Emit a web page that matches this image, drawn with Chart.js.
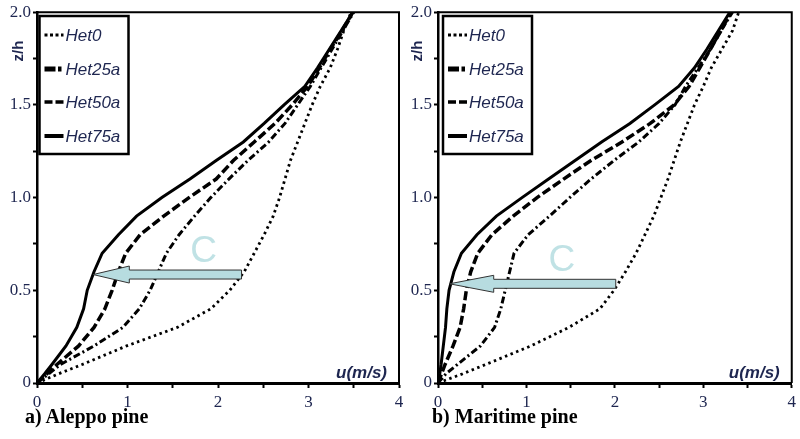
<!DOCTYPE html>
<html><head><meta charset="utf-8">
<script src="https://cdn.jsdelivr.net/npm/chart.js@4.4.1/dist/chart.umd.min.js"></script>
<style>
html,body{margin:0;padding:0;background:#fff;width:800px;height:439px;overflow:hidden;}
#wrap{position:relative;width:800px;height:439px;background:#fff;}
canvas{position:absolute;top:0;}
#c1{left:0;} #c2{left:400px;}
.cap{position:absolute;top:406px;font:bold 20px "Liberation Serif","Times New Roman",serif;line-height:20px;color:#000;white-space:nowrap;}
</style></head>
<body>
<div id="wrap">
<canvas id="c1" width="410" height="439"></canvas>
<canvas id="c2" width="400" height="439"></canvas>
<div class="cap" style="left:25px">a) Aleppo pine</div>
<div class="cap" style="left:432px">b) Maritime pine</div>
</div>
<script>
// ---- data (u in m/s at each z/h level) ----
const zLevels = [0,0.05,0.1,0.2,0.3,0.4,0.5,0.6,0.7,0.8,0.9,1.0,1.1,1.2,1.3,1.4,1.5,1.6,1.7,1.8,1.9,2.0];
const seriesNames = ['Het0','Het25a','Het50a','Het75a'];

const aleppoHet0   = [0,0.24,0.50,0.99,1.55,1.92,2.13,2.29,2.40,2.51,2.61,2.68,2.74,2.80,2.88,2.96,3.04,3.13,3.24,3.32,3.39,3.47];
const aleppoHet25a = [0,0.13,0.26,0.63,0.95,1.13,1.25,1.34,1.43,1.57,1.74,1.92,2.12,2.33,2.56,2.74,2.88,3.02,3.14,3.26,3.38,3.50];
const aleppoHet50a = [0,0.11,0.22,0.46,0.63,0.75,0.83,0.90,0.98,1.14,1.40,1.68,1.98,2.17,2.40,2.63,2.82,2.99,3.12,3.24,3.37,3.49];
const aleppoHet75a = [0,0.085,0.165,0.32,0.44,0.515,0.555,0.63,0.72,0.90,1.10,1.38,1.69,1.98,2.28,2.51,2.73,2.96,3.10,3.23,3.36,3.49];

const maritimeHet0   = [0,0.28,0.54,1.05,1.48,1.83,1.99,2.12,2.24,2.34,2.44,2.52,2.60,2.67,2.74,2.82,2.90,3.00,3.09,3.21,3.33,3.40];
const maritimeHet25a = [0,0.09,0.22,0.48,0.64,0.71,0.76,0.81,0.86,1.02,1.26,1.49,1.73,1.99,2.27,2.50,2.68,2.80,2.94,3.08,3.20,3.33];
const maritimeHet50a = [0,0.04,0.08,0.17,0.25,0.29,0.32,0.37,0.45,0.61,0.85,1.12,1.42,1.73,2.08,2.40,2.67,2.84,2.96,3.08,3.20,3.31];
const maritimeHet75a = [0,0.02,0.035,0.06,0.085,0.10,0.125,0.18,0.265,0.44,0.66,0.95,1.25,1.55,1.85,2.17,2.45,2.72,2.90,3.04,3.17,3.30];

const xTicks = [0,1,2,3,4];
const yTickLabels = ['0','0.5','1.0','1.5','2.0'];

// annotation (arrow "C") positions in data units
const aleppoArrow   = {tip:0.62, head:1.02, tail:2.26, z:0.585, labelU:1.84, labelZ:0.71};
const maritimeArrow = {tip:0.13, head:0.63, tail:2.01, z:0.535, labelU:1.40, labelZ:0.66};

// ---- styles ----
const textColor = '#1e2650';
const lineStyles = [
  {w:2.8, dash:[2.5,3.5]},
  {w:3, dash:[7,3,2,3]},
  {w:3.5, dash:[9,3.5]},
  {w:3, dash:[]}
];
const legendStyles = [
  {w:3, dash:[3,2.5]},
  {w:5, dash:[11,2.5,3.5,30]},
  {w:3.5, dash:[8,3]},
  {w:4, dash:[]}
];

function buildDatasets(arrs){
  return arrs.map((u,i)=>({
    label: seriesNames[i],
    data: u.map((v,k)=>({x:v, y:zLevels[k]})),
    borderColor:'#000',
    borderWidth: lineStyles[i].w,
    borderDash: lineStyles[i].dash,
    pointRadius:0,
    tension:0,
    fill:false
  }));
}

function panelPlugin(p){
  return {
    id:'panel'+p.id,
    afterDatasetsDraw(chart){
      const ctx=chart.ctx, a=chart.chartArea, xs=chart.scales.x, ys=chart.scales.y;
      ctx.save();
      // frame top & right
      ctx.strokeStyle='#000'; ctx.lineWidth=2; ctx.setLineDash([]);
      ctx.beginPath(); ctx.moveTo(a.left,a.top); ctx.lineTo(a.right,a.top); ctx.lineTo(a.right,a.bottom); ctx.stroke();

      // arrow
      const ar=p.arrow;
      const xt=xs.getPixelForValue(ar.tip), xh=xs.getPixelForValue(ar.head), xl=xs.getPixelForValue(ar.tail);
      const yc=ys.getPixelForValue(ar.z);
      const S=4.5, H=8.5;
      ctx.beginPath();
      ctx.moveTo(xt,yc);
      ctx.lineTo(xh,yc-H); ctx.lineTo(xh,yc-S); ctx.lineTo(xl,yc-S);
      ctx.lineTo(xl,yc+S); ctx.lineTo(xh,yc+S); ctx.lineTo(xh,yc+H);
      ctx.closePath();
      ctx.fillStyle='#b7dce0'; ctx.fill();
      ctx.lineWidth=1; ctx.strokeStyle='#333'; ctx.stroke();

      // C label
      ctx.font='37px "Liberation Sans", Arial, sans-serif';
      ctx.fillStyle='#c0e2e5'; ctx.textAlign='center'; ctx.textBaseline='middle';
      ctx.fillText('C', xs.getPixelForValue(ar.labelU), ys.getPixelForValue(ar.labelZ));

      // legend
      const bx=a.left+p.legendDx, by=16, bw=89, bh=138;
      ctx.fillStyle='#fff'; ctx.fillRect(bx,by,bw,bh);
      ctx.lineWidth=2.5; ctx.strokeStyle='#000'; ctx.strokeRect(bx,by,bw,bh);
      const rows=[19,53,86,120];
      ctx.font='italic 17px "Liberation Sans", Arial, sans-serif';
      ctx.textAlign='left'; ctx.textBaseline='middle';
      seriesNames.forEach((n,i)=>{
        const yy=by+rows[i];
        ctx.beginPath();
        ctx.setLineDash(legendStyles[i].dash);
        ctx.lineWidth=legendStyles[i].w; ctx.strokeStyle='#000';
        ctx.moveTo(bx+5,yy); ctx.lineTo(bx+24,yy); ctx.stroke();
        ctx.setLineDash([]);
        ctx.fillStyle=textColor;
        ctx.fillText(n, bx+26, yy+1);
      });

      // axis titles
      ctx.fillStyle=textColor;
      ctx.font='bold italic 17px "Liberation Sans", Arial, sans-serif';
      ctx.textAlign='right'; ctx.textBaseline='alphabetic';
      ctx.fillText('u(m/s)', a.right-12, a.bottom-5);
      ctx.save();
      ctx.translate(a.left+p.zhDx, 51);
      ctx.rotate(-Math.PI/2);
      ctx.font='bold 15px "Liberation Sans", Arial, sans-serif';
      ctx.textAlign='center'; ctx.textBaseline='middle';
      ctx.fillText('z/h',0,0);
      ctx.restore();
      ctx.restore();
    }
  };
}

function makeChart(id, arrs, p, yWidth, padRight){
  return new Chart(document.getElementById(id), {
    type:'line',
    data:{datasets: buildDatasets(arrs)},
    options:{
      responsive:false, animation:false,
      layout:{padding:{top:10,right:padRight,left:0,bottom:0}},
      plugins:{legend:{display:false}, tooltip:{enabled:false}},
      scales:{
        x:{type:'linear', min:0, max:4,
          afterFit(s){ s.height=56; },
          border:{display:true,color:'#000',width:3},
          grid:{drawOnChartArea:false, drawTicks:true, tickLength:5, tickColor:'#000', tickWidth:2},
          ticks:{stepSize:0.5, padding:4, color:textColor, maxRotation:0, autoSkip:false,
            font:{family:'"Liberation Serif", "Times New Roman", serif', size:17},
            callback:(v)=> xTicks.includes(v) ? String(v) : ''}
        },
        y:{type:'linear', min:0, max:2,
          afterFit(s){ s.width=yWidth; },
          border:{display:true,color:'#000',width:2.5},
          grid:{drawOnChartArea:false, drawTicks:true, tickLength:4, tickColor:'#000', tickWidth:2},
          ticks:{stepSize:0.25, padding:2, color:textColor, autoSkip:false,
            font:{family:'"Liberation Serif", "Times New Roman", serif', size:17},
            callback:(v)=>{ const i=Math.round(v/0.5); return Math.abs(v-i*0.5)<1e-9 ? yTickLabels[i] : ''; }}
        }
      }
    },
    plugins:[panelPlugin(p)]
  });
}

makeChart('c1', [aleppoHet0,aleppoHet25a,aleppoHet50a,aleppoHet75a],
  {id:'a', arrow:aleppoArrow, legendDx:2.5, zhDx:-18.5}, 37, 11);
makeChart('c2', [maritimeHet0,maritimeHet25a,maritimeHet50a,maritimeHet75a],
  {id:'b', arrow:maritimeArrow, legendDx:5, zhDx:-20}, 38, 1);
</script>
</body></html>
